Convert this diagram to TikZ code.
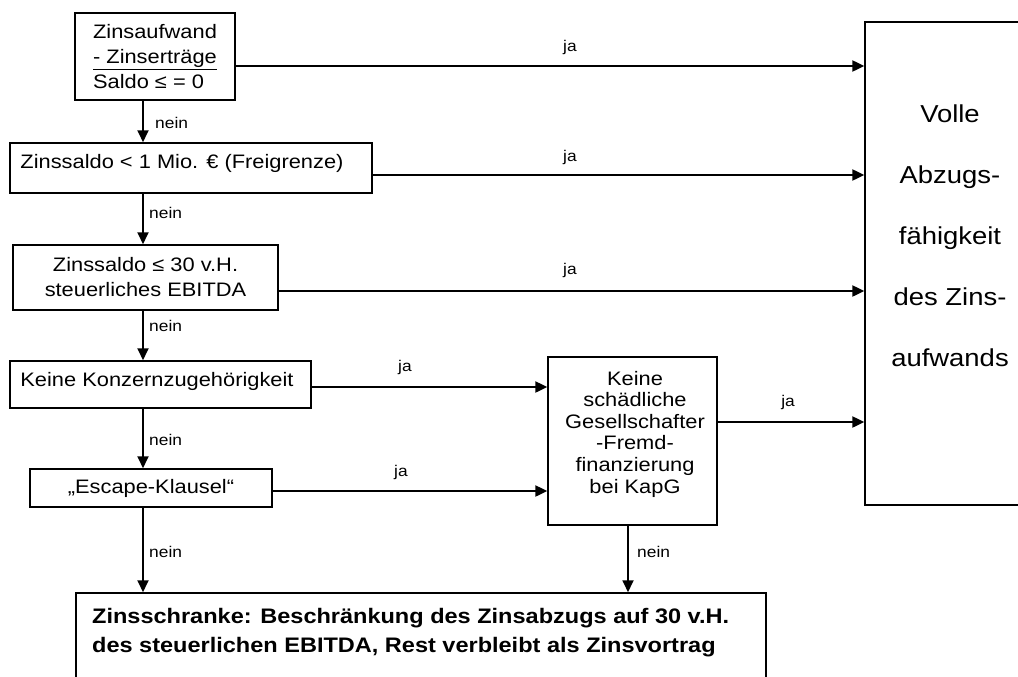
\documentclass[tikz,border=0pt]{standalone}
\usepackage{fontspec}
\setmainfont{Liberation Sans}[FakeStretch=1.12]
\usetikzlibrary{arrows.meta}
\begin{document}
\begin{tikzpicture}[x=1pt,y=-1pt,
  box/.style={draw, line width=1.5pt, inner sep=0pt, align=center,
    font=\fontsize{19.5}{25}\selectfont},
  txt/.style={inner sep=0pt, align=center},
  lbl/.style={inner sep=0pt, font=\fontsize{15.5}{18}\selectfont},
  harr/.style={-{Triangle[length=12pt,width=11pt]}, line width=2.4pt},
  varr/.style={-{Triangle[length=12pt,width=11pt]}, line width=1.8pt}]
\useasboundingbox (0,0) rectangle (1018,677);

% decision boxes
\node[box, align=left, minimum width=160pt, minimum height=87pt] (b1) at (155,56.5)
  {Zinsaufwand\\\underline{- Zinserträge}\\Saldo ≤ = 0};
\node[box, minimum width=362pt, minimum height=50pt] (b2) at (191,168) {};
\node[txt, font=\fontsize{19.5}{25}\selectfont] (b2t) at (182,163) {Zinssaldo < 1 Mio. € (Freigrenze)};
\node[box, minimum width=265pt, minimum height=65pt] (b3) at (145.5,277.5)
  {Zinssaldo ≤ 30 v.H.\\steuerliches EBITDA};
\node[box, minimum width=301pt, minimum height=47pt] (b4) at (160.5,384.5) {};
\node[txt, font=\fontsize{19.5}{25}\selectfont] (b4t) at (157,381) {Keine Konzernzugehörigkeit};
\node[box, minimum width=242pt, minimum height=38pt] (b6) at (151,488) {„Escape-Klausel“};
\node[box, minimum width=169pt, minimum height=168pt] (b5) at (632.5,441) {};
\node[txt, font=\fontsize{19.5}{21.6}\selectfont] (b5t) at (635,434)
  {Keine\\schädliche\\Gesellschafter\\-Fremd-\\finanzierung\\bei KapG};

% result boxes
\node[box, minimum width=170pt, minimum height=483pt] (vol) at (950,263.5) {};
\node[txt, font=\fontsize{24.5}{61}\selectfont] (volt) at (950,236)
  {Volle\\Abzugs-\\fähigkeit\\des Zins-\\aufwands};
\node[box, minimum width=690pt, minimum height=110pt] (b7) at (421,648) {};
\node[txt, align=left, anchor=north west, font=\bfseries\fontsize{21}{29}\selectfont] (b7t) at (92,608)
  {Zinsschranke: Beschränkung des Zinsabzugs auf 30 v.H.\\des steuerlichen EBITDA, Rest verbleibt als Zinsvortrag};

% "ja" branches
\draw[harr] ([yshift=-9.5pt]b1.east) -- ([yshift=-9.5pt]b1.east -| vol.west);
\draw[harr] ([yshift=-7pt]b2.east) -- ([yshift=-7pt]b2.east -| vol.west);
\draw[harr] ([yshift=-13.5pt]b3.east) -- ([yshift=-13.5pt]b3.east -| vol.west);
\draw[harr] ([yshift=-2.5pt]b4.east) -- ([yshift=-2.5pt]b4.east -| b5.west);
\draw[harr] ([yshift=-3pt]b6.east) -- ([yshift=-3pt]b6.east -| b5.west);
\draw[harr] ([yshift=19pt]b5.east) -- ([yshift=19pt]b5.east -| vol.west);

\node[lbl] (ja1) at (570,47) {ja};
\node[lbl] (ja2) at (570,157) {ja};
\node[lbl] (ja3) at (570,270) {ja};
\node[lbl] (ja4) at (405,367) {ja};
\node[lbl] (ja5) at (401,472) {ja};
\node[lbl] (ja6) at (788,402) {ja};

% "nein" branches
\coordinate (vx) at (143,0);
\draw[varr] (b1.south -| vx) -- (b2.north -| vx);
\draw[varr] (b2.south -| vx) -- (b3.north -| vx);
\draw[varr] (b3.south -| vx) -- (b4.north -| vx);
\draw[varr] (b4.south -| vx) -- (b6.north -| vx);
\draw[varr] (b6.south -| vx) -- (b7.north -| vx);
\draw[varr] ([xshift=-4.5pt]b5.south) -- ([xshift=-4.5pt]b5.south |- b7.north);

\node[lbl, anchor=west] (n1) at (155,123) {nein};
\node[lbl, anchor=west] (n2) at (149,213) {nein};
\node[lbl, anchor=west] (n3) at (149,326) {nein};
\node[lbl, anchor=west] (n4) at (149,440) {nein};
\node[lbl, anchor=west] (n5) at (149,552) {nein};
\node[lbl, anchor=west] (n6) at (637,552) {nein};
\end{tikzpicture}
\end{document}
